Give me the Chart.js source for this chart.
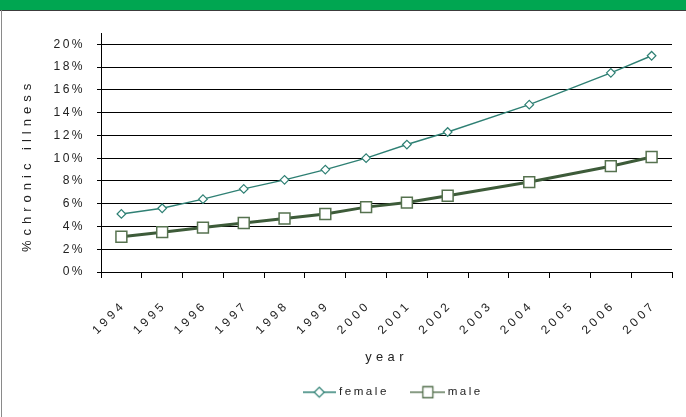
<!DOCTYPE html>
<html><head><meta charset="utf-8">
<script src="https://cdn.jsdelivr.net/npm/chart.js@4/dist/chart.umd.min.js"></script>
<style>
html,body{margin:0;padding:0;background:#fff;}
#wrap{position:relative;width:686px;height:417px;overflow:hidden;background:#fff;}
#hdr{position:absolute;left:0;top:0;width:686px;height:10px;background:#00a651;}
#hdrline{position:absolute;left:0;top:10px;width:686px;height:1px;background:#3c3c3c;}
#lb{position:absolute;left:1px;top:10px;width:1px;height:407px;background:#8a8a8a;}
canvas{position:absolute;left:0;top:0;}
</style></head><body>
<div id="wrap"><canvas id="c" width="686" height="417"></canvas><div id="hdr"></div><div id="hdrline"></div><div id="lb"></div></div>
<script>
// ---- data ----
const years = ['1994','1995','1996','1997','1998','1999','2000','2001','2002','2003','2004','2005','2006','2007'];
const female = [5.1, 5.6, 6.4, 7.3, 8.1, 9.0, 10.0, 11.2, 12.3, null, 14.7, null, 17.5, 19.0];
const male = [3.1, 3.5, 3.9, 4.3, 4.7, 5.1, 5.7, 6.1, 6.7, null, 7.9, null, 9.3, 10.1];
const yTickValues = [0, 2, 4, 6, 8, 10, 12, 14, 16, 18, 20];
const seriesNames = ['female', 'male'];
const xTitle = 'year';
const yTitle = '%chronic illness';

// ---- letter spacing per font size (Excel-like spaced text) ----
const SPACING = {'12':'3.7px','12.1':'2.4px','13':'5px','12.9':'4.4px','11.6':'2.5px'};
const P = CanvasRenderingContext2D.prototype;
const origFill = P.fillText, origMeasure = P.measureText;
function applySpacing(ctx){
  const m = /(\d+(?:\.\d+)?)px/.exec(ctx.font);
  const v = m && SPACING[String(parseFloat(m[1]))];
  ctx.letterSpacing = v || '0px';
}
P.fillText = function(t,x,y,w){ applySpacing(this); return w===undefined ? origFill.call(this,t,x,y) : origFill.call(this,t,x,y,w); };
P.measureText = function(t){ applySpacing(this); return origMeasure.call(this,t); };

const F = "'Liberation Sans', Arial, sans-serif";
const FEMALE_C = '#2f8074';
const MALE_LINE = '#3d5b39';
const MALE_PT = '#56724f';

function icon(kind){
  const c = document.createElement('canvas');
  const w = kind === 'female' ? 33 : 35;
  c.width = w; c.height = 14;
  const g = c.getContext('2d');
  g.lineWidth = 1.5;
  g.strokeStyle = kind === 'female' ? FEMALE_C : '#5f7a5a';
  g.beginPath(); g.moveTo(0,7); g.lineTo(w,7); g.stroke();
  g.fillStyle = '#fff';
  if (kind === 'female') {
    g.lineWidth = 1.2; g.strokeStyle = FEMALE_C;
    g.beginPath(); g.moveTo(w/2,2); g.lineTo(w/2+5,7); g.lineTo(w/2,12); g.lineTo(w/2-5,7); g.closePath();
    g.fill(); g.stroke();
  } else {
    g.lineWidth = 1.3; g.strokeStyle = MALE_PT;
    g.beginPath(); g.rect(w/2-5, 1.5, 10, 11); g.fill(); g.stroke();
  }
  return c;
}
const icons = [icon('female'), icon('male')];

const shiftLegend = {
  id: 'shiftLegend',
  afterLayout(chart){
    const lg = chart.legend;
    if (lg) { lg.left += 58; lg.right += 58; }
  }
};

new Chart(document.getElementById('c').getContext('2d'), {
  type: 'line',
  data: {
    labels: years,
    datasets: [
      { label: seriesNames[0], data: female, borderColor: FEMALE_C, borderWidth: 1.4,
        pointStyle: 'rectRot', pointRadius: 4.3, pointBorderColor: FEMALE_C,
        pointBackgroundColor: '#fff', pointBorderWidth: 1.2, spanGaps: true, tension: 0 },
      { label: seriesNames[1], data: male, borderColor: MALE_LINE, borderWidth: 3,
        pointStyle: 'rect', pointRadius: 7.7, pointBorderColor: MALE_PT,
        pointBackgroundColor: '#fff', pointBorderWidth: 1.5, spanGaps: true, tension: 0 }
    ]
  },
  options: {
    responsive: false, animation: false, devicePixelRatio: 1,
    layout: { padding: { top: 33, left: 0, right: 14, bottom: 9 } },
    plugins: {
      tooltip: { enabled: false },
      legend: {
        position: 'bottom',
        labels: {
          usePointStyle: true, pointStyleWidth: 28, padding: 25,
          font: { family: F, size: 11.6 }, color: '#222',
          generateLabels(chart){
            return chart.data.datasets.map((ds, i) => ({
              text: ds.label, pointStyle: icons[i], fillStyle: '#fff',
              strokeStyle: ds.borderColor, lineWidth: 0, hidden: false,
              datasetIndex: i, fontColor: '#222'
            }));
          }
        }
      }
    },
    scales: {
      x: {
        type: 'category', offset: true,
        grid: { offset: true, drawOnChartArea: false, drawTicks: true, tickLength: 6, color: '#000', lineWidth: 1 },
        border: { color: '#000', width: 1 },
        ticks: { minRotation: 45, maxRotation: 45, autoSkip: false, padding: 20, labelOffset: 2.6,
                 font: { family: F, size: 12 }, color: '#222' },
        title: { display: true, text: xTitle, font: { family: F, size: 12.9 }, color: '#222',
                 padding: { top: 0, bottom: -3.5 } },
        afterFit(s){ s.height = 89.4; }
      },
      y: {
        min: 0, max: 21,
        ticks: { padding: 12, callback: v => v + '%',
                 font: { family: F, size: 12.1 }, color: '#222' },
        grid: { color: '#000', tickLength: 4, lineWidth: 1 },
        border: { color: '#000', width: 1 },
        title: { display: true, text: yTitle + '   ', font: { family: F, size: 13 }, color: '#222',
                 padding: { top: 20, bottom: 0 } },
        afterBuildTicks(s){ s.ticks = yTickValues.map(v => ({ value: v })); },
        afterFit(s){ s.width = 101; }
      }
    }
  },
  plugins: [shiftLegend]
});
</script>
</body></html>
